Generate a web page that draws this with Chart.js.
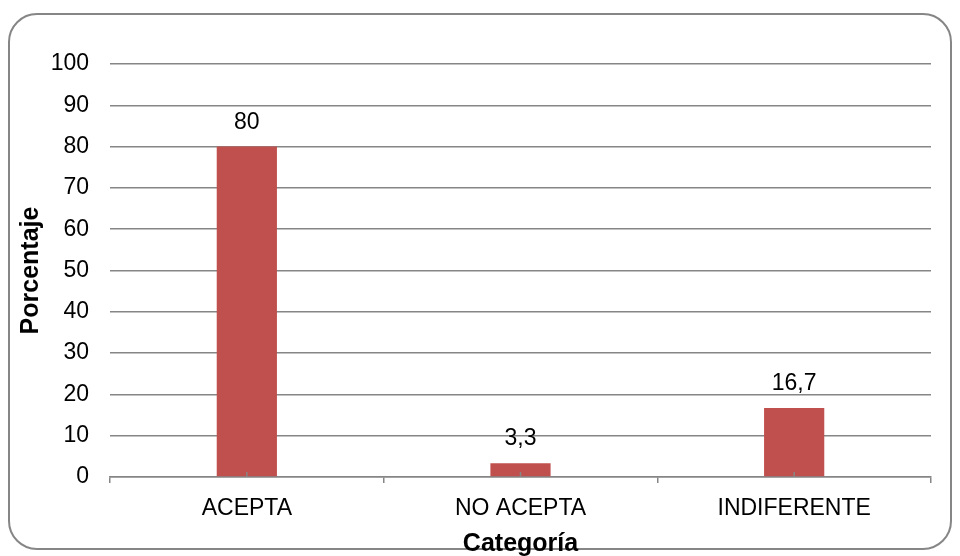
<!DOCTYPE html>
<html>
<head>
<meta charset="utf-8">
<script src="https://cdn.jsdelivr.net/npm/chart.js@4.4.1/dist/chart.umd.min.js"></script>
<style>
  html, body { margin: 0; padding: 0; background: #fff; }
  #wrap { width: 960px; height: 556px; position: relative; }
</style>
</head>
<body>
<div id="wrap"><canvas id="grafico"></canvas></div>
<script>
const categorias = ['ACEPTA', 'NO ACEPTA', 'INDIFERENTE'];
const porcentajes = [80, 3.3, 16.7];
const ticksY = [0, 10, 20, 30, 40, 50, 60, 70, 80, 90, 100];

const gris = '#868686';
const fuente = 'Liberation Sans, Arial, sans-serif';

// marco redondeado alrededor de todo el grafico
const marco = {
    id: 'marco',
    beforeDraw(chart) {
        const ctx = chart.ctx;
        ctx.save();
        ctx.strokeStyle = gris;
        ctx.lineWidth = 2;
        ctx.beginPath();
        ctx.roundRect(9, 14, 942, 535, 28);
        ctx.stroke();
        ctx.restore();
    }
};

// valores encima de cada barra y marcas centrales del eje x
const etiquetas = {
    id: 'etiquetas',
    afterDatasetsDraw(chart) {
        const ctx = chart.ctx;
        const meta = chart.getDatasetMeta(0);
        const base = chart.scales.y.getPixelForValue(0);
        ctx.save();
        ctx.font = '23px ' + fuente;
        ctx.fillStyle = '#000';
        ctx.textAlign = 'center';
        ctx.textBaseline = 'alphabetic';
        meta.data.forEach((bar, i) => {
            const txt = porcentajes[i].toLocaleString('es-ES');
            ctx.fillText(txt, bar.x, bar.y - 18);
        });
        ctx.strokeStyle = gris;
        ctx.lineWidth = 1.5;
        meta.data.forEach(bar => {
            ctx.beginPath();
            ctx.moveTo(bar.x, base);
            ctx.lineTo(bar.x, base - 5);
            ctx.stroke();
        });
        ctx.restore();
    }
};

new Chart(document.getElementById('grafico').getContext('2d'), {
    type: 'bar',
    data: {
        labels: categorias,
        datasets: [{
            data: porcentajes,
            backgroundColor: '#C0504D',
            borderWidth: 0,
            categoryPercentage: 1,
            barPercentage: 0.22
        }]
    },
    options: {
        responsive: true,
        maintainAspectRatio: false,
        animation: false,
        layout: { padding: { top: 64, right: 29, left: 0, bottom: 0 } },
        plugins: {
            legend: { display: false },
            tooltip: { enabled: false }
        },
        scales: {
            y: {
                min: 0,
                max: 100,
                afterBuildTicks: s => { s.ticks = ticksY.map(v => ({ value: v })); },
                afterFit: s => { s.width = 110; },
                border: { display: false },
                grid: { color: gris, lineWidth: 1.5, drawTicks: false },
                ticks: { color: '#000', font: { family: fuente, size: 23 }, padding: 21 },
                title: {
                    display: true,
                    text: 'Porcentaje',
                    color: '#000',
                    font: { family: fuente, size: 25, weight: 'bold' },
                    padding: { top: 16, bottom: 0 }
                }
            },
            x: {
                afterFit: s => { s.height = 79; },
                offset: true,
                border: { display: true, color: gris, width: 1.5 },
                grid: { offset: true, drawOnChartArea: false, drawTicks: true, tickLength: 6, color: gris, lineWidth: 1.5 },
                ticks: { color: '#000', font: { family: fuente, size: 23 }, padding: 12 },
                title: {
                    display: true,
                    text: 'Categoría',
                    color: '#000',
                    font: { family: fuente, size: 25, weight: 'bold' },
                    padding: { top: 0, bottom: -3 }
                }
            }
        }
    },
    plugins: [marco, etiquetas]
});
</script>
</body>
</html>
